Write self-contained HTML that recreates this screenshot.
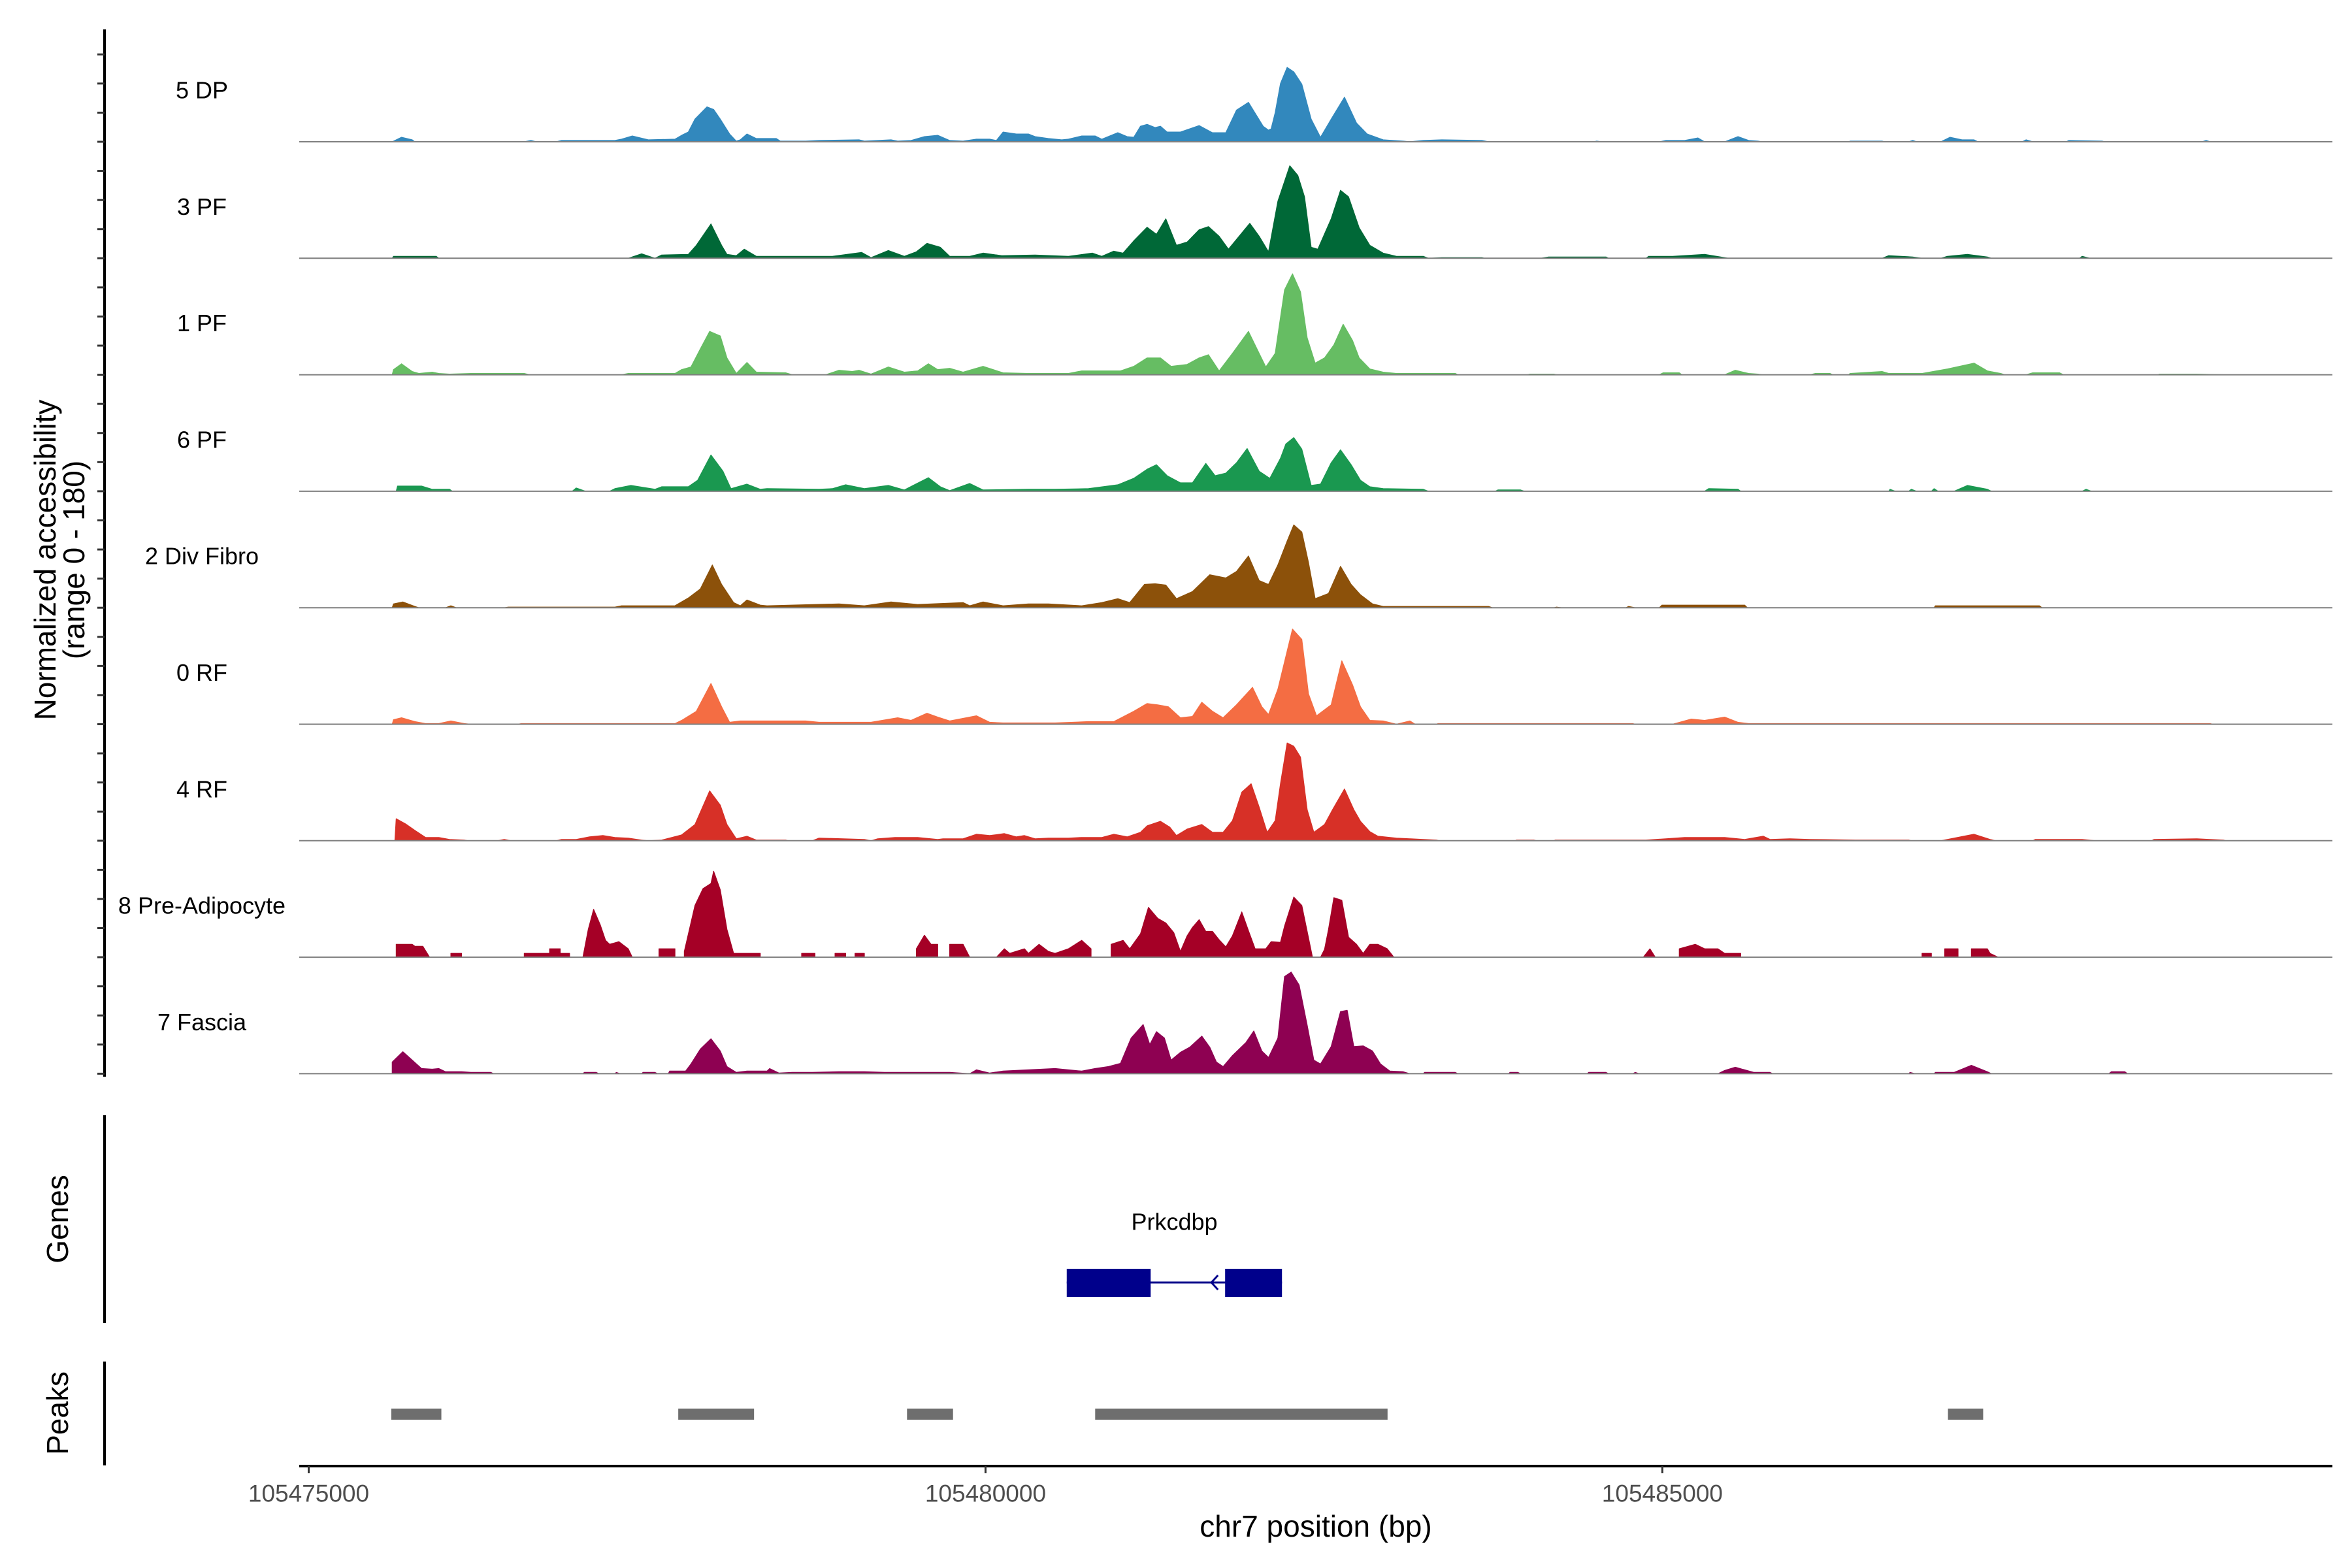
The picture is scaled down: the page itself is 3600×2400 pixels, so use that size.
<!DOCTYPE html>
<html><head><meta charset="utf-8"><style>
html,body{margin:0;padding:0;background:#fff}
svg{display:block;font-family:"Liberation Sans",sans-serif}
</style></head><body>
<svg id="chart" width="3600" height="2400" viewBox="0 0 3600 2400" xmlns="http://www.w3.org/2000/svg"></svg>
<script>
const trackNames = ["5 DP","3 PF","1 PF","6 PF","2 Div Fibro","0 RF","4 RF","8 Pre-Adipocyte","7 Fascia"];
const trackColors = ["#3288bd","#006837","#66bd63","#1a9850","#8c510a","#f46d43","#d73027","#a50026","#8e0152"];
const xTicks = [105475000,105480000,105485000];
const regionStart = 105474930, regionEnd = 105489950;
const yMax = 180;
// coverage positions were recorded on a measurement ruler: genomic kb = rulerScale*pos + rulerOffset
const rulerScale = 0.98533, rulerOffset = -0.004;
// coverage: [ruler position, normalized value]
const cov5DP = [[0.63,0],[0.70,7],[0.78,3],[0.80,0],[1.62,0],[1.67,2],[1.71,0],[1.86,0],[1.9,2],[2.3,2],[2.35,4],[2.43,9],[2.55,3],[2.75,4],[2.80,10],[2.85,15],[2.90,35],[2.99,54],[3.04,50],[3.09,35],[3.16,12],[3.21,1],[3.24,3],[3.29,12],[3.36,5],[3.51,5],[3.54,1],[3.73,1],[3.83,2],[4.13,3],[4.17,1],[4.37,3],[4.42,1],[4.52,2],[4.62,8],[4.72,10],[4.81,2],[4.91,1],[5.01,4],[5.11,4],[5.16,2],[5.21,15],[5.31,12],[5.40,12],[5.45,8],[5.55,5],[5.65,3],[5.70,4],[5.80,9],[5.90,9],[5.95,4],[6.07,14],[6.14,8],[6.19,7],[6.24,24],[6.29,27],[6.35,22],[6.39,24],[6.44,15],[6.54,15],[6.68,25],[6.78,14],[6.88,14],[6.96,49],[7.05,61],[7.16,24],[7.20,18],[7.22,20],[7.25,45],[7.29,90],[7.34,115],[7.39,108],[7.45,89],[7.52,35],[7.59,7],[7.67,35],[7.77,69],[7.86,29],[7.94,12],[8.06,3],[8.21,1],[8.26,0],[8.36,2],[8.50,3],[8.80,2],[8.85,0],[9.64,0],[9.66,1],[9.70,0],[10.13,0],[10.18,2],[10.32,2],[10.42,6],[10.47,0],[10.62,0],[10.72,8],[10.80,2],[10.87,1],[10.9,0],[11.55,0],[11.56,1],[11.80,1],[11.82,0],[12.00,0],[12.03,2],[12.06,0],[12.24,0],[12.31,7],[12.40,3],[12.49,3],[12.52,0],[12.85,0],[12.88,3],[12.93,0],[13.18,0],[13.2,2],[13.45,1],[13.47,0],[14.20,0],[14.23,2],[14.26,0]];
const cov3PF = [[0.63,0],[0.64,3],[0.96,3],[0.98,0],[2.40,0],[2.50,7],[2.60,0],[2.65,5],[2.85,6],[2.91,20],[3.02,53],[3.10,20],[3.14,6],[3.21,4],[3.27,14],[3.36,3],[3.93,3],[4.15,9],[4.22,1],[4.35,12],[4.47,3],[4.56,10],[4.64,23],[4.74,17],[4.81,3],[4.96,3],[5.06,8],[5.20,4],[5.45,5],[5.70,3],[5.88,8],[5.95,3],[6.04,11],[6.11,8],[6.19,27],[6.29,48],[6.36,37],[6.43,61],[6.51,20],[6.59,25],[6.68,44],[6.75,49],[6.83,34],[6.90,14],[6.98,34],[7.06,54],[7.13,34],[7.20,10],[7.27,88],[7.36,143],[7.42,128],[7.47,95],[7.52,17],[7.57,14],[7.67,61],[7.74,105],[7.80,95],[7.88,47],[7.96,20],[8.06,8],[8.16,3],[8.36,3],[8.40,0],[8.50,1],[8.80,1],[8.82,0],[9.24,0],[9.30,2],[9.73,2],[9.75,0],[10.03,0],[10.05,3],[10.23,3],[10.47,6],[10.62,1],[10.65,0],[11.80,0],[11.85,4],[12.03,2],[12.10,0],[12.24,0],[12.29,3],[12.44,6],[12.59,2],[12.62,0],[13.28,0],[13.30,3],[13.36,0]];
const cov1PF = [[0.63,0],[0.64,8],[0.70,17],[0.78,5],[0.83,2],[0.93,4],[0.98,2],[1.06,1],[1.22,2],[1.62,2],[1.66,0],[2.35,0],[2.40,2],[2.75,2],[2.80,8],[2.87,12],[2.94,40],[3.01,67],[3.09,60],[3.14,26],[3.21,2],[3.29,19],[3.36,4],[3.58,3],[3.63,0],[3.88,0],[3.98,7],[4.08,5],[4.13,7],[4.22,1],[4.35,12],[4.47,4],[4.57,6],[4.65,17],[4.72,8],[4.81,10],[4.91,4],[5.06,13],[5.21,3],[5.40,2],[5.70,2],[5.80,6],[6.09,6],[6.19,13],[6.29,26],[6.39,26],[6.47,13],[6.59,16],[6.68,26],[6.75,31],[6.83,6],[6.93,33],[7.05,67],[7.13,33],[7.18,12],[7.25,33],[7.32,131],[7.38,156],[7.44,128],[7.49,57],[7.55,18],[7.62,26],[7.69,46],[7.76,78],[7.83,53],[7.88,26],[7.96,9],[8.06,4],[8.16,2],[8.60,2],[8.62,0],[9.14,0],[9.16,1],[9.34,1],[9.36,0],[10.13,0],[10.16,3],[10.28,3],[10.30,0],[10.62,0],[10.70,7],[10.80,2],[10.87,1],[10.9,0],[11.26,0],[11.3,2],[11.41,2],[11.43,0],[11.55,0],[11.56,2],[11.80,5],[11.85,2],[12.10,2],[12.29,9],[12.49,18],[12.59,6],[12.69,2],[12.72,0],[12.88,0],[12.93,3],[13.13,3],[13.16,0],[13.87,0],[13.88,1],[14.16,1],[14.36,0]];
const cov6PF = [[0.66,0],[0.67,8],[0.85,8],[0.93,3],[1.06,3],[1.08,0],[1.98,0],[2.01,5],[2.08,0],[2.26,0],[2.30,4],[2.42,9],[2.60,3],[2.65,7],[2.85,7],[2.92,17],[3.02,56],[3.11,31],[3.17,4],[3.29,11],[3.39,3],[3.44,4],[3.83,3],[3.93,4],[4.03,10],[4.17,4],[4.35,9],[4.47,2],[4.65,21],[4.74,7],[4.81,1],[4.96,12],[5.06,2],[5.40,3],[5.60,3],[5.85,4],[6.07,10],[6.19,20],[6.29,34],[6.36,41],[6.44,24],[6.54,13],[6.63,13],[6.73,43],[6.80,24],[6.88,28],[6.96,44],[7.04,66],[7.13,31],[7.21,20],[7.29,51],[7.33,73],[7.39,83],[7.45,65],[7.52,9],[7.59,11],[7.67,44],[7.74,64],[7.82,41],[7.89,17],[7.96,7],[8.06,4],[8.36,3],[8.40,0],[8.90,0],[8.92,2],[9.09,2],[9.12,0],[10.47,0],[10.50,4],[10.72,3],[10.74,0],[11.85,0],[11.86,3],[11.90,0],[12.00,0],[12.02,3],[12.06,0],[12.17,0],[12.19,4],[12.22,0],[12.34,0],[12.44,9],[12.59,3],[12.62,0],[13.30,0],[13.33,3],[13.37,0]];
const cov2DivFibro = [[0.63,0],[0.64,6],[0.71,9],[0.80,2],[0.83,0],[1.03,0],[1.07,3],[1.11,0],[1.47,0],[1.5,1],[2.3,1],[2.35,3],[2.75,3],[2.85,15],[2.94,29],[3.03,66],[3.10,36],[3.19,8],[3.24,3],[3.29,12],[3.39,4],[3.44,3],[3.98,6],[4.17,3],[4.37,9],[4.57,5],[4.91,8],[4.96,3],[5.06,9],[5.21,3],[5.40,6],[5.55,6],[5.80,3],[5.95,8],[6.07,14],[6.16,8],[6.27,36],[6.35,37],[6.43,35],[6.51,14],[6.63,25],[6.76,51],[6.88,46],[6.96,56],[7.05,80],[7.13,42],[7.20,36],[7.27,66],[7.34,103],[7.39,128],[7.45,117],[7.50,70],[7.55,14],[7.65,22],[7.74,64],[7.82,36],[7.89,20],[7.98,6],[8.06,2],[8.85,2],[8.88,0],[9.34,0],[9.36,1],[9.40,0],[9.88,0],[9.90,2],[9.95,0],[10.13,0],[10.15,4],[10.77,4],[10.79,0],[12.19,0],[12.2,3],[12.98,3],[13.0,0]];
const cov0RF = [[0.63,0],[0.64,7],[0.70,10],[0.80,4],[0.88,1],[0.98,1],[1.07,5],[1.17,1],[1.22,0],[1.57,0],[1.6,1],[2.75,1],[2.80,6],[2.91,20],[3.02,63],[3.10,27],[3.16,3],[3.24,5],[3.73,5],[3.83,3],[4.22,3],[4.42,10],[4.52,6],[4.64,17],[4.72,11],[4.81,5],[5.01,13],[5.11,3],[5.21,2],[5.60,2],[5.85,4],[6.04,4],[6.19,20],[6.29,32],[6.37,30],[6.45,27],[6.54,10],[6.63,12],[6.70,34],[6.78,20],[6.86,10],[6.96,30],[7.08,57],[7.15,27],[7.20,15],[7.27,54],[7.38,147],[7.45,131],[7.50,47],[7.56,13],[7.67,30],[7.75,98],[7.83,61],[7.89,27],[7.96,6],[8.06,5],[8.16,0],[8.26,5],[8.30,0],[8.46,0],[8.47,1],[9.93,1],[9.95,0],[10.23,0],[10.37,8],[10.47,6],[10.62,11],[10.72,3],[10.80,1],[14.26,1],[14.28,0]];
const cov4RF = [[0.65,0],[0.66,34],[0.73,26],[0.80,16],[0.88,5],[0.98,5],[1.06,2],[1.17,1],[1.20,0],[1.42,0],[1.47,2],[1.52,0],[1.86,0],[1.9,2],[2.01,2],[2.11,6],[2.21,8],[2.30,5],[2.40,4],[2.50,1],[2.55,0],[2.65,1],[2.80,9],[2.90,25],[3.01,77],[3.09,55],[3.14,25],[3.21,3],[3.29,7],[3.36,1],[3.58,1],[3.60,0],[3.78,0],[3.83,4],[4.17,2],[4.22,0],[4.27,3],[4.40,5],[4.57,5],[4.72,2],[4.76,3],[4.91,3],[5.01,10],[5.11,8],[5.22,11],[5.31,6],[5.37,8],[5.45,3],[5.55,4],[5.70,4],[5.80,5],[5.95,5],[6.04,10],[6.14,6],[6.24,13],[6.29,23],[6.39,30],[6.46,21],[6.51,8],[6.59,18],[6.70,25],[6.78,13],[6.86,13],[6.93,31],[7.00,75],[7.07,88],[7.13,52],[7.19,13],[7.25,31],[7.29,88],[7.34,151],[7.39,146],[7.44,129],[7.49,48],[7.54,13],[7.62,25],[7.68,48],[7.77,80],[7.84,48],[7.89,30],[7.96,14],[8.02,7],[8.16,4],[8.26,3],[8.46,1],[8.48,0],[9.05,0],[9.06,1],[9.19,1],[9.21,0],[9.34,0],[9.35,1],[10.03,1],[10.18,3],[10.32,5],[10.47,5],[10.62,5],[10.77,2],[10.91,7],[10.96,2],[11.11,3],[11.26,2],[11.6,1],[12.0,1],[12.02,0],[12.24,0],[12.39,6],[12.49,10],[12.61,2],[12.65,0],[12.93,0],[12.95,2],[13.13,2],[13.30,2],[13.40,0],[13.82,0],[13.84,2],[14.16,3],[14.36,1],[14.38,0]];
const cov8PreAdipocyte = [[0.66,0],[0.66,20],[0.78,20],[0.80,17],[0.86,17],[0.91,0],[1.07,0],[1.07,6],[1.15,6],[1.15,0],[1.62,0],[1.62,6],[1.81,6],[1.81,13],[1.89,13],[1.89,6],[1.96,6],[1.96,0],[2.06,0],[2.10,43],[2.14,74],[2.19,50],[2.23,26],[2.26,20],[2.33,24],[2.40,13],[2.43,0],[2.63,0],[2.63,13],[2.75,13],[2.75,0],[2.82,0],[2.82,9],[2.90,80],[2.96,106],[3.02,114],[3.04,133],[3.09,104],[3.14,43],[3.19,6],[3.39,6],[3.39,0],[3.70,0],[3.70,6],[3.80,6],[3.80,0],[3.95,0],[3.95,6],[4.03,6],[4.03,0],[4.10,0],[4.10,6],[4.17,6],[4.17,0],[4.56,0],[4.56,13],[4.62,34],[4.67,20],[4.72,20],[4.72,0],[4.81,0],[4.81,20],[4.91,20],[4.96,0],[5.16,0],[5.22,13],[5.26,6],[5.37,13],[5.40,6],[5.48,20],[5.55,9],[5.60,6],[5.70,13],[5.80,26],[5.87,13],[5.87,0],[6.02,0],[6.02,20],[6.11,26],[6.16,13],[6.24,36],[6.30,77],[6.37,60],[6.43,53],[6.49,38],[6.54,9],[6.59,33],[6.63,46],[6.68,58],[6.73,40],[6.78,40],[6.83,27],[6.88,16],[6.93,33],[7.00,70],[7.05,41],[7.10,13],[7.18,13],[7.22,24],[7.29,23],[7.32,48],[7.39,93],[7.45,80],[7.50,30],[7.53,0],[7.59,0],[7.62,12],[7.65,43],[7.69,92],[7.75,88],[7.80,31],[7.86,20],[7.91,6],[7.96,20],[8.02,20],[8.09,13],[8.14,0],[10.01,0],[10.06,13],[10.10,0],[10.28,0],[10.28,13],[10.40,20],[10.47,13],[10.57,13],[10.62,6],[10.74,6],[10.74,0],[12.10,0],[12.10,6],[12.17,6],[12.17,0],[12.27,0],[12.27,13],[12.37,13],[12.37,0],[12.47,0],[12.47,13],[12.59,13],[12.61,6],[12.67,0]];
const cov7Fascia = [[0.63,0],[0.63,18],[0.71,34],[0.78,21],[0.85,8],[0.93,7],[0.98,8],[1.03,3],[1.15,3],[1.22,2],[1.37,2],[1.39,0],[2.06,0],[2.07,2],[2.16,2],[2.18,0],[2.30,0],[2.31,2],[2.34,0],[2.50,0],[2.51,2],[2.60,2],[2.62,0],[2.70,0],[2.71,4],[2.83,4],[2.87,15],[2.94,38],[3.02,54],[3.09,35],[3.14,11],[3.21,2],[3.29,4],[3.44,4],[3.46,8],[3.53,1],[3.63,2],[3.78,2],[3.98,3],[4.17,3],[4.32,2],[4.81,2],[4.96,0],[5.01,6],[5.11,1],[5.21,4],[5.60,8],[5.80,4],[5.90,8],[6.00,11],[6.09,16],[6.17,55],[6.26,76],[6.31,45],[6.36,65],[6.42,55],[6.47,21],[6.54,33],[6.61,41],[6.70,58],[6.76,41],[6.81,18],[6.86,11],[6.93,28],[7.03,48],[7.09,66],[7.15,35],[7.20,25],[7.27,55],[7.32,150],[7.37,157],[7.43,137],[7.49,75],[7.54,21],[7.59,15],[7.67,42],[7.74,96],[7.79,98],[7.84,42],[7.91,43],[7.98,35],[8.04,15],[8.11,4],[8.21,3],[8.26,0],[8.36,0],[8.37,2],[8.60,2],[8.62,0],[9.00,0],[9.01,2],[9.07,2],[9.09,0],[9.59,0],[9.60,2],[9.73,2],[9.75,0],[9.93,0],[9.95,2],[9.98,0],[10.57,0],[10.62,5],[10.70,10],[10.77,6],[10.84,2],[10.96,2],[10.98,0],[12.00,0],[12.01,2],[12.05,0],[12.19,0],[12.2,2],[12.34,2],[12.47,13],[12.59,3],[12.62,0],[13.50,0],[13.52,3],[13.62,3],[13.64,0]];
const coverage = [cov5DP,cov3PF,cov1PF,cov6PF,cov2DivFibro,cov0RF,cov4RF,cov8PreAdipocyte,cov7Fascia];
// peaks [start kb, end kb] relative to 105475000
const peakStarts = [0.61,2.73,4.42,5.81,12.11];
const peakEnds = [0.98,3.29,4.76,7.97,12.37];
// gene exons (kb)
const exonStarts = [5.60,6.77];
const exonEnds = [6.22,7.19];
const geneName = "Prkcdbp";

const NS="http://www.w3.org/2000/svg";
const svg=document.getElementById('chart');
function el(tag,attrs,parent){const e=document.createElementNS(NS,tag);for(const k in attrs)e.setAttribute(k,attrs[k]);(parent||svg).appendChild(e);return e;}
const X0=458,X1=3570;
const bpToX = bp => X0 + (bp-regionStart)/(regionEnd-regionStart)*(X1-X0);
const kbToX = kb => bpToX(105475000 + kb*1000);
const covToX = p => kbToX(rulerScale*p + rulerOffset);
const base0=217, trackStep=178.3;
const yScale = (i,v) => base0 + i*trackStep - v/yMax*trackStep;

for(let i=0;i<coverage.length;i++){
  const g=el('g',{});
  
  
  const pts=coverage[i];
  let d='M'+covToX(pts[0][0]).toFixed(1)+','+yScale(i,0).toFixed(1);
  for(const p of pts) d+=' L'+covToX(p[0]).toFixed(1)+','+yScale(i,p[1]).toFixed(1);
  d+=' L'+covToX(pts[pts.length-1][0]).toFixed(1)+','+yScale(i,0).toFixed(1)+' Z';
  const a=el('path',{d:d,fill:trackColors[i],stroke:trackColors[i],'stroke-width':1.2,'stroke-linejoin':'round'},g);
  
  
  const bl=el('line',{x1:X0,x2:X1,y1:yScale(i,0),y2:yScale(i,0),stroke:'#7f7f7f','stroke-width':2},g);
  
  
  const t=el('text',{x:309,y:yScale(i,0)-79,'font-size':36,'text-anchor':'middle','dominant-baseline':'central',fill:'#000'},g);
  t.textContent=trackNames[i];
  
  
}
const ya=el('line',{x1:160,x2:160,y1:45,y2:1648,stroke:'#000','stroke-width':4});


const lastBase=yScale(coverage.length-1,0);
for(let k=0;;k++){const y=lastBase-k*trackStep/4; if(y<50)break;
  const tk=el('line',{x1:149,x2:160,y1:y,y2:y,stroke:'#333','stroke-width':3});
  
  
}
const yt=el('text',{transform:'translate(69,857) rotate(-90)','font-size':46,'text-anchor':'middle','dominant-baseline':'central'});
yt.textContent='Normalized accessibility';


const yt2=el('text',{transform:'translate(113,857) rotate(-90)','font-size':46,'text-anchor':'middle','dominant-baseline':'central'});
yt2.textContent='(range 0 - 180)';



const ga=el('line',{x1:160,x2:160,y1:1707,y2:2025,stroke:'#000','stroke-width':4});


const gl=el('text',{transform:'translate(88,1866) rotate(-90)','font-size':46,'text-anchor':'middle','dominant-baseline':'central'});
gl.textContent='Genes';


const gline=el('line',{x1:kbToX(exonStarts[0]),x2:kbToX(exonEnds[exonEnds.length-1]),y1:1963,y2:1963,stroke:'#00008b','stroke-width':3});


for(let i=0;i<exonStarts.length;i++){
  const r=el('rect',{x:kbToX(exonStarts[i]),y:1942,width:kbToX(exonEnds[i])-kbToX(exonStarts[i]),height:43,fill:'#00008b'});
  
  
}
const ax=(kbToX(exonEnds[0])+kbToX(exonStarts[1]))/2+40;
const arr=el('path',{d:`M${ax+6},1952 L${ax-4},1963 L${ax+6},1974`,fill:'none',stroke:'#00008b','stroke-width':3});


const gn=el('text',{x:(kbToX(exonStarts[0])+kbToX(exonEnds[exonEnds.length-1]))/2,y:1870,'font-size':36,'text-anchor':'middle','dominant-baseline':'central'});
gn.textContent=geneName;



const pa=el('line',{x1:160,x2:160,y1:2084,y2:2243,stroke:'#000','stroke-width':4});


const pl=el('text',{transform:'translate(88,2163) rotate(-90)','font-size':46,'text-anchor':'middle','dominant-baseline':'central'});
pl.textContent='Peaks';


for(let i=0;i<peakStarts.length;i++){
  const r=el('rect',{x:kbToX(peakStarts[i]),y:2156,width:kbToX(peakEnds[i])-kbToX(peakStarts[i]),height:17,fill:'#6e6e6e'});
  
  
}

const xa=el('line',{x1:X0,x2:X1,y1:2244,y2:2244,stroke:'#000','stroke-width':4});


for(const t of xTicks){
  const x=bpToX(t);
  const tk=el('line',{x1:x,x2:x,y1:2244,y2:2255,stroke:'#333','stroke-width':3});
  
  
  const lb=el('text',{x:x,y:2286,'font-size':37,'text-anchor':'middle','dominant-baseline':'central',fill:'#4d4d4d'});
  lb.textContent=String(t);
  
  
}
const xt=el('text',{x:(X0+X1)/2,y:2336,'font-size':46,'text-anchor':'middle','dominant-baseline':'central'});
xt.textContent='chr7 position (bp)';


</script>
</body></html>
